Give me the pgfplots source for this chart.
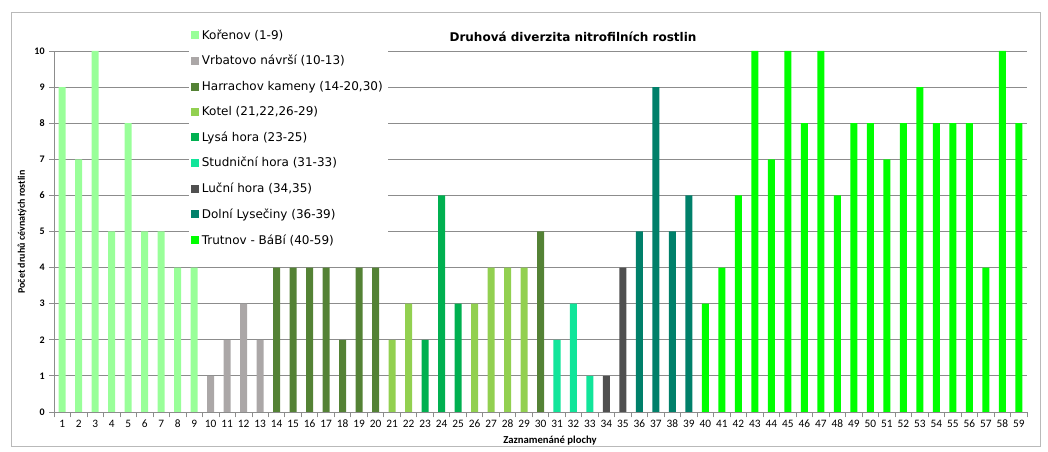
\documentclass[border=0pt]{standalone}
\usepackage{fontspec}
\setmainfont{Carlito}
\newfontfamily\dejavu{DejaVu Sans}
\usepackage{pgfplots}
\pgfplotsset{compat=1.18}
\definecolor{cKor}{HTML}{99FF99}
\definecolor{cVrb}{HTML}{ABA7A7}
\definecolor{cHar}{HTML}{548235}
\definecolor{cKot}{HTML}{92D050}
\definecolor{cLys}{HTML}{00B050}
\definecolor{cStu}{HTML}{11E59A}
\definecolor{cLuc}{HTML}{505050}
\definecolor{cDol}{HTML}{00806A}
\definecolor{cTru}{HTML}{00FF00}
\definecolor{gridc}{HTML}{8C8C8C}
\begin{document}
\begin{tikzpicture}
\path (0,0) rectangle (786pt,339pt);
\draw[gray!55, line width=0.6pt] (8.25pt,4pt) rectangle (780pt,330pt);
\begin{axis}[
  at={(40.5pt,30pt)}, anchor=origin,
  scale only axis, width=729.75pt, height=270.75pt,
  ybar, bar width=5.25pt, bar shift=0pt,
  xmin=0.5, xmax=59.5, ymin=0, ymax=10,
  xtick={1,...,59}, ytick={0,...,10},
  minor xtick={0.5,1.5,...,59.5},
  major x tick style={draw=none},
  minor x tick style={gridc, line width=0.6pt},
  y tick style={gridc, line width=0.6pt},
  minor tick length=4pt, major tick length=3.5pt,
  tick align=outside,
  axis x line*=bottom, axis y line*=left,
  axis line style={-, gridc, line width=0.7pt},
  ymajorgrids, grid style={gridc, line width=0.6pt},
  /pgf/number format/assume math mode=true,
  xticklabel style={font=\fontsize{8.5}{9}\selectfont, yshift=1pt},
  yticklabel style={font=\bfseries\fontsize{7.5}{8}\selectfont},
  legend image code/.code={\path[#1, draw=none] (0pt,-3pt) rectangle (6pt,3pt);},
  legend style={at={(0.138,1.075)}, anchor=north west, draw=none, fill=white,
    font=\dejavu\fontsize{9}{10}\selectfont, row sep=6.6pt, inner sep=2pt},
  legend cell align=left,
]
\addplot[fill=cKor, draw=none] coordinates {(1,9)(2,7)(3,10)(4,5)(5,8)(6,5)(7,5)(8,4)(9,4)};
\addlegendentry{Kořenov (1-9)}
\addplot[fill=cVrb, draw=none] coordinates {(10,1)(11,2)(12,3)(13,2)};
\addlegendentry{Vrbatovo návrší (10-13)}
\addplot[fill=cHar, draw=none] coordinates {(14,4)(15,4)(16,4)(17,4)(18,2)(19,4)(20,4)(30,5)};
\addlegendentry{Harrachov kameny (14-20,30)}
\addplot[fill=cKot, draw=none] coordinates {(21,2)(22,3)(26,3)(27,4)(28,4)(29,4)};
\addlegendentry{Kotel (21,22,26-29)}
\addplot[fill=cLys, draw=none] coordinates {(23,2)(24,6)(25,3)};
\addlegendentry{Lysá hora (23-25)}
\addplot[fill=cStu, draw=none] coordinates {(31,2)(32,3)(33,1)};
\addlegendentry{Studniční hora (31-33)}
\addplot[fill=cLuc, draw=none] coordinates {(34,1)(35,4)};
\addlegendentry{Luční hora (34,35)}
\addplot[fill=cDol, draw=none] coordinates {(36,5)(37,9)(38,5)(39,6)};
\addlegendentry{Dolní Lysečiny (36-39)}
\addplot[fill=cTru, draw=none] coordinates {(40,3)(41,4)(42,6)(43,10)(44,7)(45,10)(46,8)(47,10)(48,6)(49,8)(50,8)(51,7)(52,8)(53,9)(54,8)(55,8)(56,8)(57,4)(58,10)(59,8)};
\addlegendentry{Trutnov - BáBí (40-59)}
\end{axis}
\node[font=\dejavu\bfseries\fontsize{9}{10}\selectfont] at (429.75pt,311.25pt) {Druhová diverzita nitrofilních rostlin};
\node[font=\bfseries\fontsize{7.5}{8}\selectfont, rotate=90] at (16.5pt,165pt) {Počet druhů cévnatých rostlin};
\node[font=\bfseries\fontsize{8}{9}\selectfont] at (412.5pt,8.25pt) {Zaznamenáné plochy};
\end{tikzpicture}
\end{document}
